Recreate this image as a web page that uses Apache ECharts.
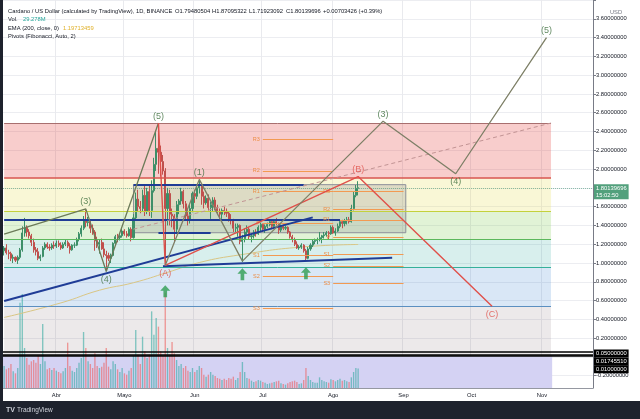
<!DOCTYPE html>
<html>
<head>
<meta charset="utf-8">
<title>Cardano / US Dollar</title>
<script src="https://cdn.jsdelivr.net/npm/echarts@6/dist/echarts.min.js"></script>
<style>
  html, body { margin: 0; padding: 0; background: #fff; overflow: hidden; }
  #chart { width: 640px; height: 419px; }
</style>
</head>
<body>
<div id="chart"></div>
<script>
// ---- data ----
const FIRST_DAY = '2021-03-09'
const DAY_COUNT = 260 // time scale runs to late November

// daily candles from FIRST_DAY: [open, high, low, close]
const candles = [
  [1.13, 1.18, 1.08, 1.16], [1.16, 1.20, 1.09, 1.11], [1.11, 1.14, 1.04, 1.10], [1.10, 1.12, 1.02, 1.05],
  [1.05, 1.09, 1.00, 1.06], [1.06, 1.07, 1.01, 1.03], [1.03, 1.08, 0.99, 1.06], [1.06, 1.16, 1.04, 1.14],
  [1.14, 1.39, 1.12, 1.32], [1.32, 1.48, 1.28, 1.38], [1.38, 1.40, 1.28, 1.33], [1.33, 1.36, 1.26, 1.29],
  [1.29, 1.31, 1.18, 1.22], [1.22, 1.26, 1.11, 1.14], [1.14, 1.17, 1.08, 1.12], [1.12, 1.16, 1.03, 1.05],
  [1.05, 1.09, 1.02, 1.07], [1.07, 1.18, 1.06, 1.16], [1.16, 1.22, 1.14, 1.20], [1.20, 1.22, 1.15, 1.17],
  [1.17, 1.20, 1.13, 1.16], [1.16, 1.21, 1.14, 1.19], [1.19, 1.23, 1.15, 1.18], [1.18, 1.24, 1.16, 1.21],
  [1.21, 1.24, 1.17, 1.19], [1.19, 1.22, 1.14, 1.16], [1.16, 1.22, 1.15, 1.20], [1.20, 1.25, 1.18, 1.22],
  [1.22, 1.24, 1.16, 1.18], [1.18, 1.21, 1.10, 1.14], [1.14, 1.20, 1.13, 1.19], [1.19, 1.22, 1.16, 1.19],
  [1.19, 1.27, 1.18, 1.25], [1.25, 1.33, 1.23, 1.31], [1.31, 1.40, 1.28, 1.37], [1.37, 1.50, 1.35, 1.46],
  [1.46, 1.57, 1.38, 1.43], [1.43, 1.49, 1.39, 1.44], [1.44, 1.46, 1.32, 1.37], [1.37, 1.41, 1.30, 1.33],
  [1.33, 1.35, 1.13, 1.24], [1.24, 1.28, 1.16, 1.20], [1.20, 1.25, 1.10, 1.22], [1.22, 1.26, 1.14, 1.15],
  [1.15, 1.22, 1.06, 1.09], [1.09, 1.13, 0.92, 1.08], [1.08, 1.11, 1.02, 1.05], [1.05, 1.10, 1.00, 1.08],
  [1.08, 1.22, 1.07, 1.21], [1.21, 1.30, 1.19, 1.28], [1.28, 1.31, 1.22, 1.27], [1.27, 1.32, 1.24, 1.29],
  [1.29, 1.37, 1.27, 1.34], [1.34, 1.36, 1.29, 1.31], [1.31, 1.34, 1.27, 1.29], [1.29, 1.38, 1.28, 1.36],
  [1.36, 1.38, 1.23, 1.27], [1.27, 1.52, 1.26, 1.48], [1.48, 1.75, 1.45, 1.68], [1.68, 1.78, 1.55, 1.60],
  [1.60, 1.66, 1.53, 1.58], [1.58, 1.78, 1.55, 1.72], [1.72, 1.84, 1.50, 1.55], [1.55, 1.80, 1.52, 1.76],
  [1.76, 1.82, 1.50, 1.56], [1.56, 1.88, 1.48, 1.77], [1.77, 2.12, 1.75, 2.05], [2.05, 2.40, 1.98, 2.22],
  [2.22, 2.47, 1.95, 2.18], [2.18, 2.25, 1.92, 2.08], [2.08, 2.15, 1.94, 1.98], [1.98, 2.01, 0.98, 1.58],
  [1.58, 1.80, 1.40, 1.74], [1.74, 1.78, 1.40, 1.52], [1.52, 1.58, 1.38, 1.50], [1.50, 1.52, 1.22, 1.36],
  [1.36, 1.66, 1.33, 1.62], [1.62, 1.68, 1.52, 1.66], [1.66, 1.80, 1.62, 1.76], [1.76, 1.78, 1.58, 1.63],
  [1.63, 1.66, 1.45, 1.50], [1.50, 1.58, 1.40, 1.46], [1.46, 1.62, 1.42, 1.58], [1.58, 1.76, 1.54, 1.74],
  [1.74, 1.78, 1.64, 1.71], [1.71, 1.84, 1.68, 1.80], [1.80, 1.89, 1.74, 1.82], [1.82, 1.85, 1.62, 1.71],
  [1.71, 1.76, 1.58, 1.64], [1.64, 1.72, 1.62, 1.69], [1.69, 1.73, 1.56, 1.59], [1.59, 1.65, 1.47, 1.62],
  [1.62, 1.70, 1.55, 1.67], [1.67, 1.70, 1.56, 1.59], [1.59, 1.62, 1.52, 1.55], [1.55, 1.58, 1.45, 1.52],
  [1.52, 1.58, 1.47, 1.56], [1.56, 1.60, 1.51, 1.55], [1.55, 1.58, 1.49, 1.53], [1.53, 1.55, 1.44, 1.46],
  [1.46, 1.52, 1.41, 1.45], [1.45, 1.47, 1.33, 1.37], [1.37, 1.42, 1.33, 1.38], [1.38, 1.42, 1.28, 1.40],
  [1.40, 1.41, 1.20, 1.23], [1.23, 1.30, 1.01, 1.26], [1.26, 1.37, 1.22, 1.33], [1.33, 1.40, 1.30, 1.36],
  [1.36, 1.38, 1.25, 1.28], [1.28, 1.31, 1.22, 1.29], [1.29, 1.35, 1.26, 1.33], [1.33, 1.36, 1.28, 1.31],
  [1.31, 1.40, 1.30, 1.38], [1.38, 1.43, 1.34, 1.41], [1.41, 1.42, 1.33, 1.36], [1.36, 1.41, 1.32, 1.39],
  [1.39, 1.43, 1.37, 1.41], [1.41, 1.46, 1.39, 1.44], [1.44, 1.45, 1.36, 1.39], [1.39, 1.46, 1.38, 1.44],
  [1.44, 1.48, 1.40, 1.42], [1.42, 1.43, 1.31, 1.35], [1.35, 1.41, 1.33, 1.39], [1.39, 1.41, 1.35, 1.37],
  [1.37, 1.40, 1.35, 1.38], [1.38, 1.39, 1.31, 1.33], [1.33, 1.34, 1.26, 1.28], [1.28, 1.30, 1.22, 1.25],
  [1.25, 1.27, 1.18, 1.20], [1.20, 1.23, 1.15, 1.16], [1.16, 1.19, 1.14, 1.17], [1.17, 1.21, 1.15, 1.19],
  [1.19, 1.20, 1.11, 1.13], [1.13, 1.15, 1.02, 1.05], [1.05, 1.17, 1.04, 1.15], [1.15, 1.21, 1.13, 1.19],
  [1.19, 1.25, 1.17, 1.23], [1.23, 1.26, 1.20, 1.24], [1.24, 1.27, 1.20, 1.25], [1.25, 1.33, 1.23, 1.27],
  [1.27, 1.30, 1.21, 1.29], [1.29, 1.33, 1.26, 1.30], [1.30, 1.34, 1.28, 1.32], [1.32, 1.34, 1.25, 1.31],
  [1.31, 1.40, 1.30, 1.38], [1.38, 1.40, 1.31, 1.32], [1.32, 1.37, 1.29, 1.34], [1.34, 1.42, 1.33, 1.39],
  [1.39, 1.46, 1.37, 1.44], [1.44, 1.46, 1.37, 1.42], [1.42, 1.47, 1.39, 1.45], [1.45, 1.49, 1.41, 1.46],
  [1.46, 1.49, 1.42, 1.44], [1.44, 1.62, 1.43, 1.58], [1.58, 1.76, 1.56, 1.72], [1.72, 1.83, 1.70, 1.79480504],
  [1.79480504, 1.87095322, 1.71923092, 1.80139696]
]

// daily volume, million ADA
const volumes = [
  33, 28, 30, 36, 25, 22, 30,
  128, 141, 60, 45, 35, 40, 42, 38, 48, 36,
  96, 40, 28, 30, 27, 30,
  26, 24, 22, 25, 30, 68, 33, 26, 24, 30, 38, 45,
  84, 60, 40, 36, 30, 52, 33, 30, 32, 38, 60, 32, 28,
  40, 36, 28, 24, 30, 22, 20, 26, 30, 48,
  87, 50, 36, 77, 55, 45, 50, 115, 80, 105, 92, 55, 48,
  143, 60, 50, 69, 52, 42, 33, 36, 30, 33, 26, 24, 30, 24, 27, 33, 30,
  20, 17, 20, 24, 20, 18, 15, 14, 12, 14, 12, 15, 14, 17, 12, 15, 24,
  39, 24, 15, 14, 11, 9, 10, 12, 11,
  9, 8, 6, 7, 8, 9, 10, 11, 7, 6, 5, 7, 9, 10, 11, 9, 6, 7, 12, 30, 18, 12, 9, 8, 8, 16, 12, 10, 9, 8, 13,
  12, 10, 12, 14, 11, 12, 10, 9, 16, 24, 30, 29.278
]

// EMA 200
const emaPoints = [
  ['2021-03-09', 0.42], ['2021-04-03', 0.575], ['2021-04-20', 0.71], ['2021-05-05', 0.79],
  ['2021-05-20', 0.90], ['2021-06-03', 1.005], ['2021-06-21', 1.087], ['2021-07-17', 1.168],
  ['2021-08-12', 1.197]
]

// fibonacci retracement levels, top to bottom
const fibLevels = [2.49, 1.907, 1.546, 1.254, 0.958, 0.542, 0.0175]
const fibDays = ['2021-03-09', '2021-11-05']

// monthly pivots (Fibonacci)
const pivotsJul = [['R3', 2.32], ['R2', 1.98], ['R1', 1.76], ['P', 1.42], ['S1', 1.08], ['S2', 0.86], ['S3', 0.52]]
const pivotsAug = [['R3', 1.76], ['R2', 1.57], ['R1', 1.46], ['P', 1.27], ['S1', 1.09], ['S2', 0.97], ['S3', 0.785]]
const pivotJulDays = ['2021-07-01', '2021-08-01']
const pivotAugDays = ['2021-08-01', '2021-09-01']

const rangeBox = [['2021-05-05', 1.834], ['2021-09-02', 1.322]]
const navyLines = [
  [['2021-05-05', 1.834], ['2021-07-19', 1.834]],
  [['2021-03-09', 1.46], ['2021-08-04', 1.46]],
  [['2021-05-16', 1.322], ['2021-06-08', 1.322]],
  [['2021-03-09', 0.595], ['2021-07-23', 1.486]],
  [['2021-05-18', 0.964], ['2021-08-27', 1.056]]
]
const dashedTrend = [['2021-05-05', 1.36], ['2021-11-05', 2.49]]

const waveLeft = [['2021-03-09', 1.307], ['2021-04-14', 1.576], ['2021-04-23', 0.91], ['2021-05-16', 2.49]]
const waveABC = [['2021-05-16', 2.49], ['2021-05-19', 0.975], ['2021-08-12', 1.92], ['2021-10-10', 0.54]]
const waveRight = [['2021-05-19', 0.975], ['2021-06-03', 1.89], ['2021-06-22', 1.02], ['2021-08-23', 2.51],
  ['2021-09-24', 1.95], ['2021-11-03', 3.40]]

const labelsAbove = [['(3)', '2021-04-14', 1.576], ['(5)', '2021-05-16', 2.49], ['(1)', '2021-06-03', 1.89],
  ['(B)', '2021-08-12', 1.92], ['(3)', '2021-08-23', 2.51], ['(5)', '2021-11-03', 3.40]]
const labelsBelow = [['(4)', '2021-04-23', 0.91], ['(A)', '2021-05-19', 0.975], ['(4)', '2021-09-24', 1.95],
  ['(C)', '2021-10-10', 0.54]]

const arrowsAt = [['2021-05-19', 0.70], ['2021-06-22', 0.88], ['2021-07-20', 0.89]]

const markedLevels = [0.05, 0.0174551, 0.01]
const lastClose = 1.80139696
const monthNames = { '03': 'Mar', '04': 'Abr', '05': 'Mayo', '06': 'Jun', '07': 'Jul', '08': 'Ago', '09': 'Sep', '10': 'Oct', '11': 'Nov' }

// ---- styles ----
const FONT = 'Liberation Sans, Arial, sans-serif'
const UP = '#3d8f68'
const DOWN = '#c0504d'
const FIB_LINE = ['#a86f6f', '#d9534f', '#c3d13c', '#5cb85c', '#35b09a', '#5b8fc0']
const FIB_FILL = ['rgba(229,57,53,0.25)', 'rgba(228,218,70,0.22)', 'rgba(120,200,70,0.22)',
  'rgba(38,166,154,0.18)', 'rgba(66,133,210,0.2)', 'rgba(120,100,105,0.14)']
const WAVE_GREEN = '#3b6d3b'
const WAVE_RED = '#e0504a'
const ARROW = 'path://M6,0 L12,6 L8.2,6 L8.2,13 L3.8,13 L3.8,6 L0,6 Z'

// ---- build ----
const days = []
const t0 = Date.parse(FIRST_DAY + 'T00:00:00Z')
for (let i = 0; i < DAY_COUNT; i++) {
  days.push(new Date(t0 + i * 864e5).toISOString().slice(0, 10))
}
const isMonthStart = (i, d) => d.slice(8) === '01'

const candleData = candles.map(([o, h, l, c]) => [o, c, l, h])
const volumeData = volumes.map((v, i) => ({
  value: v,
  itemStyle: { color: candles[i][3] >= candles[i][0] ? 'rgba(38,166,154,0.55)' : 'rgba(239,83,80,0.55)' }
}))

const segment = ([a, b]) => [{ coord: a }, { coord: b }]
const bandAreas = fibLevels.slice(0, -1).map((hi, i) => [
  { xAxis: fibDays[0], yAxis: hi, itemStyle: { color: FIB_FILL[i] } },
  { xAxis: fibDays[1], yAxis: fibLevels[i + 1] }
])
const fibLines = fibLevels.slice(0, -1).map((v, i) => [
  { coord: [fibDays[0], v], lineStyle: { color: FIB_LINE[i], width: i === 1 ? 1.5 : 1, type: 'solid' } },
  { coord: [fibDays[1], v] }
])
const pivotSegments = (levels, span) => levels.map(([name, v]) => [
  { name, coord: [span[0], v] }, { coord: [span[1], v] }
])
const waveText = (list) => list.map(([t, d, v]) => ({
  name: t, value: [d, v], label: { color: /[ABC]/.test(t) ? WAVE_RED : WAVE_GREEN }
}))
const priceLabel = (v) => {
  if (Math.abs(v) < 1e-6 || Math.abs(v - 1.8) < 1e-6 || v > 3.7) return ''
  return v.toFixed(8)
}

const chart = echarts.init(document.getElementById('chart'))

chart.setOption({
  animation: false,
  backgroundColor: '#ffffff',
  textStyle: { fontFamily: FONT },
  grid: [
    { left: 3, right: 47, top: -15, bottom: 43.3 },
    { left: 3, right: 47, top: 0, bottom: 31 }
  ],
  xAxis: [
    { type: 'category', gridIndex: 0, data: days, boundaryGap: true, show: false },
    {
      type: 'category',
      gridIndex: 1,
      data: days,
      boundaryGap: true,
      axisLine: { show: true, lineStyle: { color: '#9598a1' } },
      axisTick: { show: false },
      axisLabel: {
        interval: isMonthStart,
        formatter: (d) => monthNames[d.slice(5, 7)],
        fontSize: 5.8,
        color: '#131722',
        margin: 4
      },
      splitLine: { show: true, interval: isMonthStart, lineStyle: { color: '#e9eaee' } }
    }
  ],
  yAxis: [
    {
      type: 'value',
      gridIndex: 0,
      position: 'right',
      min: -0.2,
      max: 3.8,
      interval: 0.2,
      axisLine: { show: false },
      axisTick: { show: true, length: 3, lineStyle: { color: '#787b86' } },
      axisLabel: { formatter: priceLabel, fontSize: 5.8, color: '#131722', margin: 3 },
      splitLine: { lineStyle: { color: '#ecedf1' } }
    },
    {
      type: 'value',
      gridIndex: 1,
      position: 'right',
      min: 0,
      max: 582,
      axisLine: { show: true, lineStyle: { color: '#787b86' } },
      axisTick: { show: false },
      axisLabel: { show: false },
      splitLine: { show: false }
    }
  ],
  series: [
    {
      name: 'fib',
      type: 'line',
      data: [],
      silent: true,
      markArea: { silent: true, data: bandAreas },
      markLine: { silent: true, symbol: 'none', label: { show: false }, lineStyle: { type: 'solid' }, data: fibLines }
    },
    {
      name: 'box',
      type: 'line',
      data: [],
      silent: true,
      markArea: {
        silent: true,
        itemStyle: { color: 'rgba(110,112,125,0.2)', borderColor: '#8c8f99', borderWidth: 1 },
        data: [[{ xAxis: rangeBox[0][0], yAxis: rangeBox[0][1] }, { xAxis: rangeBox[1][0], yAxis: rangeBox[1][1] }]]
      }
    },
    {
      name: 'pivots',
      type: 'line',
      data: [],
      silent: true,
      markLine: {
        silent: true,
        symbol: 'none',
        lineStyle: { color: '#f29a52', width: 1, type: 'solid' },
        label: { show: true, position: 'start', formatter: '{b}', color: '#ec8d45', fontSize: 5.5, distance: 3 },
        data: [...pivotSegments(pivotsJul, pivotJulDays), ...pivotSegments(pivotsAug, pivotAugDays)]
      }
    },
    {
      name: 'levels',
      type: 'line',
      data: [],
      silent: true,
      markLine: {
        silent: true,
        symbol: 'none',
        label: { show: false },
        lineStyle: { color: '#000000', width: 1.5, type: 'solid' },
        data: markedLevels.map(v => ({ yAxis: v }))
      }
    },
    {
      name: 'EMA',
      type: 'line',
      data: emaPoints,
      smooth: true,
      symbol: 'none',
      silent: true,
      lineStyle: { color: '#d9c684', width: 1 },
      z: 3
    },
    {
      name: 'ADA',
      type: 'candlestick',
      data: candleData,
      barWidth: '70%',
      z: 3,
      itemStyle: { color: UP, color0: DOWN, borderColor: UP, borderColor0: DOWN, borderWidth: 1 },
      markLine: {
        silent: true,
        symbol: 'none',
        label: { show: false },
        lineStyle: { color: 'rgba(79,157,126,0.6)', type: 'dotted', width: 1 },
        data: [{ yAxis: lastClose }]
      }
    },
    {
      name: 'navy',
      type: 'line',
      data: [],
      silent: true,
      markLine: {
        silent: true,
        symbol: 'none',
        label: { show: false },
        lineStyle: { color: '#1f3c96', width: 2, type: 'solid' },
        data: navyLines.map(segment)
      }
    },
    {
      name: 'trend',
      type: 'line',
      data: [],
      silent: true,
      markLine: {
        silent: true,
        symbol: 'none',
        label: { show: false },
        lineStyle: { color: '#c29494', width: 1, type: [4, 3] },
        data: [segment(dashedTrend)]
      }
    },
    { name: 'wave1', type: 'line', data: waveLeft, symbol: 'none', silent: true, lineStyle: { color: '#6c7b58', width: 1.3 }, z: 6 },
    { name: 'waveABC', type: 'line', data: waveABC, symbol: 'none', silent: true, lineStyle: { color: WAVE_RED, width: 1.4 }, z: 6 },
    { name: 'wave2', type: 'line', data: waveRight, symbol: 'none', silent: true, lineStyle: { color: '#7d7f66', width: 1.3 }, z: 6 },
    {
      name: 'arrows',
      type: 'scatter',
      data: arrowsAt,
      symbol: ARROW,
      symbolSize: [10, 12],
      silent: true,
      itemStyle: { color: '#2e9d52' },
      z: 7
    },
    {
      name: 'labelsAbove',
      type: 'scatter',
      data: waveText(labelsAbove),
      symbolSize: 1,
      silent: true,
      itemStyle: { color: 'rgba(0,0,0,0)' },
      label: { show: true, position: 'top', distance: 2, formatter: '{b}', fontSize: 9 },
      z: 7
    },
    {
      name: 'labelsBelow',
      type: 'scatter',
      data: waveText(labelsBelow),
      symbolSize: 1,
      silent: true,
      itemStyle: { color: 'rgba(0,0,0,0)' },
      label: { show: true, position: 'bottom', distance: 3, formatter: '{b}', fontSize: 9 },
      z: 7
    },
    {
      name: 'Vol',
      type: 'bar',
      xAxisIndex: 1,
      yAxisIndex: 1,
      data: volumeData,
      barWidth: '60%',
      silent: true,
      z: 2
    }
  ]
})

// pane background, axis tags and page chrome, placed through the chart's own scales
const xOf = (d) => chart.convertToPixel({ xAxisIndex: 1 }, d)
const band = xOf(days[1]) - xOf(days[0])
const paneTop = chart.convertToPixel({ yAxisIndex: 0 }, fibLevels[fibLevels.length - 1]) + 1
const paneBottom = chart.convertToPixel({ yAxisIndex: 1 }, 0)
const tagY = chart.convertToPixel({ yAxisIndex: 0 }, markedLevels[0])
const lastY = chart.convertToPixel({ yAxisIndex: 0 }, lastClose)
const axisX = 593

const txt = (text, x, y, fill, extra) => ({
  type: 'text', x, y, z: 60,
  style: Object.assign({ text, fill, fontSize: 5.8, fontFamily: FONT, verticalAlign: 'middle' }, extra || {})
})

chart.setOption({
  graphic: { elements: [
    {
      type: 'rect', z: 1,
      shape: { x: xOf(fibDays[0]) - band / 2, y: paneTop, width: xOf(fibDays[1]) - xOf(fibDays[0]) + band, height: paneBottom - paneTop },
      style: { fill: '#d4d2f3' }
    },
    txt('0.05000000', axisX + 1, tagY + 1.4, '#ffffff', { backgroundColor: '#000000', padding: [1, 2, 1, 2] }),
    txt('0.01745510', axisX + 1, tagY + 9.4, '#ffffff', { backgroundColor: '#000000', padding: [1, 2, 1, 2] }),
    txt('0.01000000', axisX + 1, tagY + 17, '#ffffff', { backgroundColor: '#000000', padding: [1, 2, 1, 2] }),
    txt('1.80139696\n15:02:50', axisX + 1, lastY - 3.5, '#ffffff',
      { backgroundColor: '#52a07c', padding: [1, 2, 1, 2], verticalAlign: 'top', lineHeight: 6.5 }),
    txt('USD', 616, 12, '#787b86', { align: 'center' }),
    // legend
    txt('Cardano / US Dollar (calculated by TradingView), 1D, BINANCE', 8, 11, '#131722'),
    txt('O1.79480504', 175, 11, '#131722'),
    txt('H1.87095322', 212, 11, '#131722'),
    txt('L1.71923092', 249, 11, '#131722'),
    txt('C1.80139696', 286, 11, '#131722'),
    txt('+0.00703426 (+0.39%)', 323, 11, '#131722'),
    txt('Vol.', 8, 19.5, '#131722'),
    txt('29.278M', 23, 19.5, '#26a69a'),
    txt('EMA (200, close, 0)', 8, 28, '#131722'),
    txt('1.19713459', 63, 28, '#e0b12a'),
    txt('Pivots (Fibonacci, Auto, 2)', 8, 36.5, '#131722'),
    // frame and footer
    { type: 'rect', z: 100, shape: { x: 0, y: 0, width: 3, height: 419 }, style: { fill: '#1e222d' } },
    { type: 'rect', z: 100, shape: { x: 0, y: 401, width: 640, height: 18 }, style: { fill: '#1e222d' } },
    {
      type: 'text', z: 101, x: 6, y: 410,
      style: { text: 'TV', fill: '#d1d4dc', fontSize: 7, fontWeight: 'bold', fontFamily: FONT, verticalAlign: 'middle' }
    },
    {
      type: 'text', z: 101, x: 17, y: 410,
      style: { text: 'TradingView', fill: '#d1d4dc', fontSize: 6.5, fontFamily: FONT, verticalAlign: 'middle' }
    }
  ] }
})
</script>
</body>
</html>
